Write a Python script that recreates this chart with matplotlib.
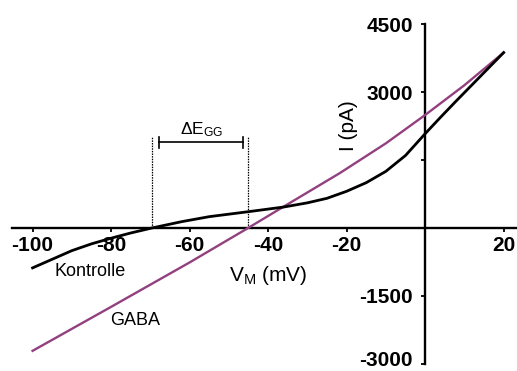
import matplotlib
matplotlib.use('Agg')
from matplotlib import pyplot as plt
from matplotlib.transforms import ScaledTranslation

plt.rcParams['font.family'] = ['Liberation Sans', 'DejaVu Sans']
plt.rcParams['mathtext.fontset'] = 'custom'
plt.rcParams['mathtext.rm'] = 'Liberation Sans'
plt.rcParams['mathtext.it'] = 'Liberation Sans:italic'

# membrane potential (mV) and current (pA)
v_kontrolle = [-100, -95, -90, -85, -80, -75, -69.6, -62, -55, -45, -36, -30,
               -25, -20, -15, -10, -5, 0, 4, 8, 14, 20]
i_kontrolle = [-880, -690, -500, -350, -225, -110, 0, 140, 250, 360, 463, 555,
               655, 810, 1000, 1250, 1600, 2080, 2450, 2810, 3340, 3870]

v_gaba = [-100, -80, -60, -45.1, -36.2, -21.7, -10, 0, 10, 20]
i_gaba = [-2710, -1740, -760, 0, 463, 1213, 1868, 2493, 3150, 3870]

x_ticks = [-100, -80, -60, -40, -20, 0, 20]
x_labels = ['-100', '-80', '-60', '-40', '-20', '', '20']
y_ticks = [-3000, -1500, 0, 1500, 3000, 4500]
y_labels = ['-3000', '-1500', '', '', '3000', '4500']

e_kontrolle = -69.6
e_gaba = -45.1

fig = plt.figure(figsize=(5.17, 3.71), dpi=100)
ax = fig.add_axes([0, 0, 1, 1])
ax.set_xlim(-108.3, 23.4)
ax.set_ylim(-3155, 5030)

ax.plot(v_gaba, i_gaba, color='#93407f', linewidth=1.7, zorder=3)
ax.plot(v_kontrolle, i_kontrolle, color='black', linewidth=2.0, zorder=4,
        solid_joinstyle='round')

# reversal potentials and the shift between them
for e in (e_kontrolle, e_gaba):
    ax.plot([e, e], [0, 2000], color='black', linestyle=(0, (1.2, 0.9)),
            linewidth=0.9)
ax.plot([-67.7, -46.3], [1890, 1890], color='black', linewidth=1.2)
for e in (-67.7, -46.3):
    ax.plot([e, e], [1770, 2010], color='black', linewidth=1.2)
ax.text(-57, 2180, r'$\Delta\mathrm{E}_{\mathrm{GG}}$', fontsize=12.5,
        ha='center', va='center')

for s in ('top', 'right'):
    ax.spines[s].set_visible(False)
ax.spines['left'].set_position(('data', 0))
ax.spines['bottom'].set_position(('data', 0))
ax.spines['left'].set_bounds(-3000, 4500)
ax.spines['bottom'].set_bounds(-105.2, 23.4)
ax.spines['left'].set_linewidth(1.7)
ax.spines['bottom'].set_linewidth(1.7)

ax.set_xticks(x_ticks)
ax.set_xticklabels(x_labels)
ax.set_yticks(y_ticks)
ax.set_yticklabels(y_labels)
ax.tick_params(axis='x', direction='out', length=3, width=1.3, pad=3,
               labelsize=15)
ax.tick_params(axis='y', direction='out', length=3, width=1.3, pad=6,
               labelsize=15)
for lbl in ax.get_xticklabels() + ax.get_yticklabels():
    lbl.set_fontweight('bold')
# lift the lowest label a little so it stays inside the picture
low = ax.get_yticklabels()[0]
low.set_transform(low.get_transform() + ScaledTranslation(0, 4 / 72, fig.dpi_scale_trans))

ax.text(-40, -1050, r'V$_\mathrm{M}$ (mV)', fontsize=15, ha='center',
        va='center')
ax.text(-19.6, 2250, 'I (pA)', fontsize=15, rotation=90, ha='center',
        va='center')
ax.text(-85.3, -970, 'Kontrolle', fontsize=13, ha='center', va='center')
ax.text(-74, -2050, 'GABA', fontsize=13, ha='center', va='center')

fig.savefig('out.png', dpi=100)
